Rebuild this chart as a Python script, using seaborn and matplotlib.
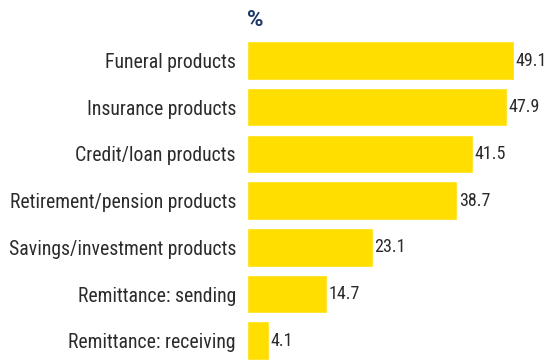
import matplotlib
matplotlib.use("Agg")
import matplotlib.pyplot as plt
import seaborn as sns
import pandas as pd

categories = [
    "Funeral products",
    "Insurance products",
    "Credit/loan products",
    "Retirement/pension products",
    "Savings/investment products",
    "Remittance: sending",
    "Remittance: receiving",
]
values = [49.1, 47.9, 41.5, 38.7, 23.1, 14.7, 4.1]
unit_label = "%"

bar_color = "#FFDE00"
text_color = "#2b2b2b"
title_color = "#1b3668"

sns.set_theme(style="white")
plt.rcParams["font.family"] = ["Roboto Condensed", "Archivo Narrow", "DejaVu Sans"]

df = pd.DataFrame({"category": categories, "value": values})

fig = plt.figure(figsize=(5.47, 3.60), dpi=100)
ax = fig.add_axes([247 / 547, 0, 300 / 547, 1])

sns.barplot(data=df, x="value", y="category", orient="h", color=bar_color,
            saturation=1, width=0.826, ax=ax)

ax.set_xlim(0, 300 / 5.438)
ax.set_ylim(6.413, -1.2955)

ax.bar_label(ax.containers[0], labels=[f"{v:.1f}" for v in values],
             padding=1, fontsize=13, color=text_color)

ax.set_xlabel("")
ax.set_ylabel("")
ax.set_xticks([])
ax.tick_params(axis="y", length=0, pad=8, labelsize=14.2, labelcolor=text_color)
for s in ax.spines.values():
    s.set_visible(False)

ax.text(0, -0.87, unit_label, ha="left", va="center", fontsize=16,
        fontweight="bold", color=title_color, family=["Roboto", "DejaVu Sans"])

fig.savefig("out.png", dpi=100)
